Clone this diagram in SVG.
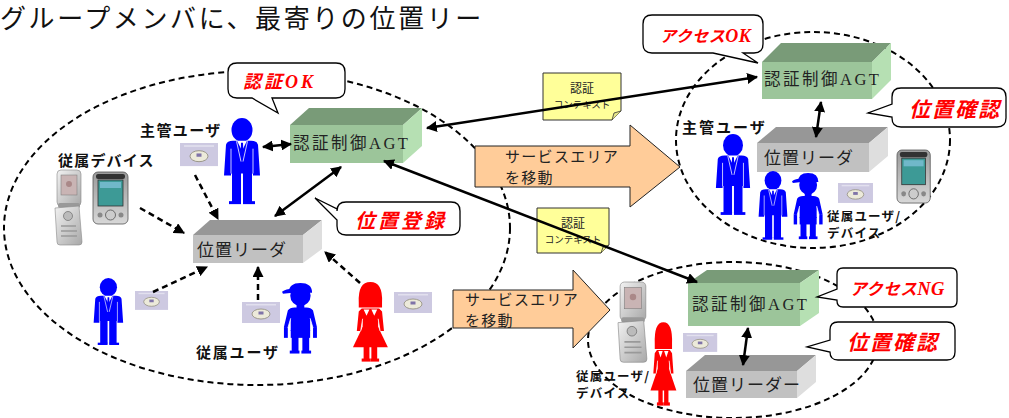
<svg xmlns="http://www.w3.org/2000/svg" xmlns:xlink="http://www.w3.org/1999/xlink" width="1009" height="418" viewBox="0 0 1009 418">
<style>
  text{font-family:"Noto Sans CJK JP","Noto Sans CJK SC",sans-serif;}
  .latin{font-family:"Liberation Serif","Noto Sans CJK JP",serif;}
  .zone{fill:none;stroke:#000;stroke-width:2;stroke-dasharray:6 4;}
  .front-g{fill:#9CC59A;} .top-g{fill:#799B78;} .side-g{fill:#B6E0B3;}
  .front-s{fill:#C1C1C1;} .top-s{fill:#979797;} .side-s{fill:#DEDEDE;}
  .boxlbl{font-size:16.5px;fill:#222;letter-spacing:2.5px;}
  .rdrlbl{font-size:17px;fill:#222;letter-spacing:1px;}
  .bubble{fill:#fff;stroke:#000;stroke-width:1.3;}
  .say{fill:#FF0000;font-style:italic;font-weight:bold;}
  .move{fill:#FFCC99;stroke:#222;stroke-width:1;}
  .movetxt{font-size:15px;fill:#222;letter-spacing:1.3px;}
  .note{fill:#FFFF99;stroke:#333;stroke-width:1;}
  .notetxt{fill:#222;text-anchor:middle;}
  .lbl{font-size:15px;font-weight:bold;fill:#111;}
  .lbl-s{font-size:12.5px;font-weight:bold;fill:#111;letter-spacing:1.2px;}
  .link{stroke:#000;stroke-width:2.5;fill:none;marker-start:url(#ah);marker-end:url(#ah);}
  .flow{stroke:#000;stroke-width:2.5;fill:none;stroke-dasharray:6 4;marker-end:url(#ah);}
  .blue{fill:#0000FF;} .red{fill:#FF0000;}
</style>
<defs>
  <marker id="ah" viewBox="0 0 10 10" refX="9" refY="5" markerWidth="11" markerHeight="11" markerUnits="userSpaceOnUse" orient="auto-start-reverse">
    <path d="M0,0 L10,5 L0,10 z" fill="#000"/>
  </marker>
  <linearGradient id="silver" x1="0" y1="0" x2="1" y2="1">
    <stop offset="0" stop-color="#F2F2F2"/>
    <stop offset="1" stop-color="#A8A8A8"/>
  </linearGradient>
  <linearGradient id="silver2" x1="0" y1="0" x2="0" y2="1">
    <stop offset="0" stop-color="#9A9A9A"/>
    <stop offset="1" stop-color="#D8D8D8"/>
  </linearGradient>
  <filter id="soft" x="-10%" y="-10%" width="120%" height="120%">
    <feGaussianBlur stdDeviation="0.6"/>
  </filter>
  <!-- figure in a suit -->
  <g id="man-shape">
    <ellipse cx="20" cy="12" rx="10.5" ry="12"/>
    <rect x="16" y="20" width="8" height="6"/>
    <path d="M4,27 Q5,23 11,23 H29 Q35,23 36,27 L38,58 H31 V56 H9 V58 H2 Z"/>
    <rect x="10" y="55" width="9" height="30"/>
    <rect x="21" y="55" width="9" height="30"/>
    <rect x="7" y="84" width="12" height="3"/>
    <rect x="21" y="84" width="12" height="3"/>
    <path d="M15,23 L20,33 L25,23 Z" fill="#fff"/>
    <path d="M19,25 H21 L21.6,42 L20,45 L18.4,42 Z"/>
    <path d="M9,31 V56 M31,31 V56 M14.5,23.5 L19,44 M25.5,23.5 L21,44" stroke="#fff" stroke-width="0.8" fill="none"/>
  </g>
  <!-- child with cap -->
  <g id="boy-shape">
    <circle cx="19" cy="14" r="10.5"/>
    <path d="M7,11 Q7,1 19,1 Q31,1 31,11 Z"/>
    <path d="M0,10 Q4,7 11,7 L11,11 L1,12 Z"/>
    <rect x="15" y="23" width="8" height="5"/>
    <path d="M6,29 Q8,26 13,26 H25 Q30,26 32,29 L36,46 L32,47 L29,37 V50 H9 V37 L6,47 L2,46 Z"/>
    <rect x="2" y="46" width="4" height="11"/>
    <rect x="32" y="46" width="4" height="11"/>
    <rect x="9" y="49" width="20" height="8"/>
    <rect x="10" y="56" width="7" height="15"/>
    <rect x="21" y="56" width="7" height="15"/>
    <rect x="8" y="70" width="10" height="3"/>
    <rect x="20" y="70" width="10" height="3"/>
    <path d="M9,37 L6,47 M29,37 L32,47" stroke="#fff" stroke-width="0.8" fill="none"/>
  </g>
  <!-- girl figure -->
  <g id="girl-shape">
    <path d="M8,22 Q7,2 20,2 Q33,2 32,22 V27 H8 Z"/>
    <path d="M11,28 H29 L32,31 L34,50 H30 L28,38 V48 H12 V38 L10,50 H6 L8,31 Z"/>
    <path d="M12,46 H28 L38,66 H2 Z"/>
    <rect x="13" y="65" width="6" height="13"/>
    <rect x="21" y="65" width="6" height="13"/>
    <rect x="11" y="77" width="9" height="3"/>
    <rect x="20" y="77" width="9" height="3"/>
    <path d="M13,29 H19 L16,35 Z M21,29 H27 L24,35 Z" fill="#fff"/>
    <path d="M12,38 L10,50 M28,38 L30,50" stroke="#fff" stroke-width="0.8" fill="none"/>
  </g>
  <!-- member card -->
  <g id="card-shape" filter="url(#soft)">
    <rect x="0" y="0" width="38" height="21" fill="#CDC9E1"/>
    <rect x="4" y="2" width="30" height="1.5" fill="#E2E0EE"/>
    <ellipse cx="19" cy="12" rx="9" ry="5" fill="#ECEADA" stroke="#8E8A7A" stroke-width="0.8"/>
    <rect x="16.5" y="9.5" width="5" height="3" fill="#7F73A8"/>
  </g>
  <!-- folding phone -->
  <g id="flip-shape" filter="url(#soft)">
    <rect x="2" y="0" width="24" height="36" rx="4" fill="url(#silver)" stroke="#888" stroke-width="0.6"/>
    <rect x="6" y="5" width="16" height="20" fill="#C9B4B4" stroke="#777" stroke-width="0.5"/>
    <circle cx="14" cy="14" r="3" fill="#A88" />
    <rect x="3" y="33" width="22" height="5" rx="2" fill="#999"/>
    <path d="M0,38 L24,36 L27,72 Q27,75 24,75 L5,75 Q2,75 2,72 Z" fill="url(#silver)" stroke="#888" stroke-width="0.6"/>
    <circle cx="13" cy="46" r="4.5" fill="#BBB" stroke="#777" stroke-width="0.8"/>
    <path d="M6,56 H21 M6,61 H22 M6,66 H22" stroke="#999" stroke-width="1.5"/>
  </g>
  <!-- handheld PDA -->
  <g id="pda-shape" filter="url(#soft)">
    <rect x="0" y="0" width="35" height="52" rx="5" fill="url(#silver2)" stroke="#555" stroke-width="0.8"/>
    <rect x="3" y="2" width="29" height="5" rx="2" fill="#333"/>
    <rect x="5" y="8" width="25" height="26" fill="#3E9A96" stroke="#333" stroke-width="0.8"/>
    <rect x="7" y="10" width="21" height="6" fill="#6FB8C9"/>
    <circle cx="17.5" cy="43" r="5" fill="#CCC" stroke="#555" stroke-width="0.8"/>
    <circle cx="7" cy="43" r="2.5" fill="#888"/>
    <circle cx="28" cy="43" r="2.5" fill="#888"/>
  </g>
</defs>

<rect width="1009" height="418" fill="#fff"/>

<!-- heading -->
<text x="0" y="28" font-size="26" letter-spacing="2.6" fill="#111">グループメンバに、最寄りの位置リー</text>

<!-- service areas -->
<g id="areas">
  <ellipse class="zone" cx="257" cy="228" rx="253" ry="157"/>
  <ellipse class="zone" cx="813" cy="140" rx="137" ry="108"/>
  <ellipse class="zone" cx="733" cy="340" rx="145" ry="78"/>
</g>

<!-- movement between areas -->
<g id="move-top">
  <path class="move" d="M475,146 H630 V125 L680,167 L630,207 V187 H475 Z"/>
  <text class="movetxt" x="505" y="162">サービスエリア</text>
  <text class="movetxt" x="505" y="183">を移動</text>
</g>
<g id="move-bottom">
  <path class="move" d="M453,290 H573 V270 L610,310 L573,348 V328 H453 Z"/>
  <text class="movetxt" x="465" y="305">サービスエリア</text>
  <text class="movetxt" x="465" y="326">を移動</text>
</g>

<!-- context notes -->
<g id="note-top">
  <path class="note" d="M543,73 H621 V111 L612,120 H543 Z"/>
  <path d="M612,120 L614,113 L621,111" fill="#E6E68A" stroke="#333" stroke-width="0.8"/>
  <text class="notetxt" x="582" y="93" font-size="12">認証</text>
  <text class="notetxt" x="582" y="108" font-size="9.5">コンテキスト</text>
</g>
<g id="note-bottom">
  <path class="note" d="M537,208 H609 V245 L601,253 H537 Z"/>
  <path d="M601,253 L603,247 L609,245" fill="#E6E68A" stroke="#333" stroke-width="0.8"/>
  <text class="notetxt" x="573" y="228" font-size="12">認証</text>
  <text class="notetxt" x="573" y="243" font-size="9.5">コンテキスト</text>
</g>

<!-- authentication agents -->
<g id="agt-home">
  <rect class="front-g" x="290" y="125" width="113" height="38"/>
  <polygon class="top-g" points="290,125 309,108 422,108 403,125"/>
  <polygon class="side-g" points="403,125 422,108 422,146 403,163"/>
  <text class="boxlbl" x="293" y="149">認証制御<tspan class="latin">AGT</tspan></text>
</g>
<g id="agt-ok">
  <rect class="front-g" x="762" y="62" width="110" height="37"/>
  <polygon class="top-g" points="762,62 781,43 891,43 872,62"/>
  <polygon class="side-g" points="872,62 891,43 891,80 872,99"/>
  <text class="boxlbl" x="764" y="85">認証制御<tspan class="latin">AGT</tspan></text>
</g>
<g id="agt-ng">
  <rect class="front-g" x="688" y="283" width="112" height="43"/>
  <polygon class="top-g" points="688,283 707,270 819,270 800,283"/>
  <polygon class="side-g" points="800,283 819,270 819,313 800,326"/>
  <text class="boxlbl" x="692" y="310">認証制御<tspan class="latin">AGT</tspan></text>
</g>

<!-- location readers -->
<g id="reader-home">
  <rect class="front-s" x="193" y="235" width="110" height="28"/>
  <polygon class="top-s" points="193,235 210,220 322,220 303,235"/>
  <polygon class="side-s" points="303,235 322,220 322,249 303,263"/>
  <text class="rdrlbl" x="197" y="256">位置リーダ</text>
</g>
<g id="reader-ok">
  <rect class="front-s" x="757" y="143" width="112" height="29"/>
  <polygon class="top-s" points="757,143 776,127 888,127 869,143"/>
  <polygon class="side-s" points="869,143 888,127 888,156 869,172"/>
  <text class="rdrlbl" x="764" y="164">位置リーダ</text>
</g>
<g id="reader-ng">
  <rect class="front-s" x="686" y="371" width="111" height="27"/>
  <polygon class="top-s" points="686,371 705,355 816,355 797,371"/>
  <polygon class="side-s" points="797,371 816,355 816,382 797,398"/>
  <text class="rdrlbl" x="693" y="391">位置リーダー</text>
</g>

<!-- home area members -->
<g id="owner-home">
  <use xlink:href="#man-shape" class="blue" transform="translate(222,118) scale(1,0.99)"/>
  <use xlink:href="#card-shape" transform="translate(180,143) scale(1,1.1)"/>
  <text class="lbl" x="140" y="136" letter-spacing="1.4">主管ユーザ</text>
</g>
<g id="devices-home">
  <use xlink:href="#flip-shape" transform="translate(55,170)"/>
  <use xlink:href="#pda-shape" transform="translate(93,172)"/>
  <text class="lbl" x="58" y="166" letter-spacing="1.2">従属デバイス</text>
</g>
<g id="member-man">
  <use xlink:href="#man-shape" class="blue" transform="translate(92,278) scale(0.82,0.77)"/>
  <use xlink:href="#card-shape" transform="translate(135,291) scale(0.87,0.9)"/>
</g>
<g id="member-boy">
  <use xlink:href="#card-shape" transform="translate(242,302)"/>
  <use xlink:href="#boy-shape" class="blue" transform="translate(282,282) scale(0.97,0.98)"/>
  <text class="lbl" x="196" y="358" letter-spacing="1.8">従属ユーザ</text>
</g>
<g id="member-girl">
  <use xlink:href="#girl-shape" class="red" transform="translate(351,280) scale(0.97,1.02)"/>
  <use xlink:href="#card-shape" transform="translate(394,292)"/>
</g>

<!-- members after moving (access OK) -->
<g id="owner-ok">
  <use xlink:href="#man-shape" class="blue" transform="translate(714,134) scale(0.95,0.93)"/>
  <text class="lbl" x="682" y="133" letter-spacing="2">主管ユーザ</text>
</g>
<g id="members-ok">
  <use xlink:href="#man-shape" class="blue" transform="translate(757,171) scale(0.8,0.79)"/>
  <use xlink:href="#boy-shape" class="blue" transform="translate(792,172) scale(0.85,0.92)"/>
  <use xlink:href="#card-shape" transform="translate(838,183) scale(0.92,0.95)"/>
  <use xlink:href="#pda-shape" transform="translate(897,150) scale(0.95,1.02)"/>
  <text class="lbl-s" x="827" y="221">従属ユーザ/</text>
  <text class="lbl-s" x="827" y="238">デバイス</text>
</g>

<!-- members after moving (access NG) -->
<g id="members-ng">
  <use xlink:href="#flip-shape" transform="translate(618,282) scale(1.07,1.07)"/>
  <use xlink:href="#girl-shape" class="red" transform="translate(649,320) scale(0.72,1.07)"/>
  <use xlink:href="#card-shape" transform="translate(683,333) scale(0.9,0.9)"/>
  <text class="lbl-s" x="576" y="381">従属ユーザ/</text>
  <text class="lbl-s" x="576" y="398">デバイス</text>
</g>

<!-- status callouts -->
<g id="call-auth-ok">
  <path class="bubble" d="M237,63 H336 Q345,63 345,72 V89 Q345,98 336,98 H272 L278,113 L252,98 H237 Q228,98 228,89 V72 Q228,63 237,63 Z"/>
  <text class="say" x="243" y="88" font-size="18" letter-spacing="3">認証<tspan class="latin">OK</tspan></text>
</g>
<g id="call-register">
  <path class="bubble" d="M346,202 H451 Q460,202 460,211 V226 Q460,235 451,235 H346 Q337,235 337,226 V220 L315,198 L337,209 V211 Q337,202 346,202 Z"/>
  <text class="say" x="355" y="228" font-size="20" letter-spacing="3">位置登録</text>
</g>
<g id="call-access-ok">
  <path class="bubble" d="M652,15 H754 Q763,15 763,24 V44 Q763,53 754,53 H743 L758,63 L713,53 H652 Q643,53 643,44 V24 Q643,15 652,15 Z"/>
  <text class="say" x="660" y="42" font-size="16" letter-spacing="0.5">アクセス<tspan class="latin" font-size="18">OK</tspan></text>
</g>
<g id="call-check-ok">
  <path class="bubble" d="M901,88 H997 Q1006,88 1006,97 V118 Q1006,127 997,127 H901 Q892,127 892,118 V117 L868,113 L892,104 V97 Q892,88 901,88 Z"/>
  <text class="say" x="909" y="117" font-size="21" letter-spacing="2">位置確認</text>
</g>
<g id="call-access-ng">
  <path class="bubble" d="M843,268 H951 Q957,268 957,274 V301 Q957,307 951,307 H843 Q837,307 837,301 V300 L817,297 L837,289 V274 Q837,268 843,268 Z"/>
  <text class="say" x="850" y="295" font-size="16.5" letter-spacing="0.5">アクセス<tspan class="latin" font-size="18.5">NG</tspan></text>
</g>
<g id="call-check-ng">
  <path class="bubble" d="M838,322 H947 Q955,322 955,330 V352 Q955,360 947,360 H838 Q830,360 830,352 L807,347 L830,340 V330 Q830,322 838,322 Z"/>
  <text class="say" x="847" y="350" font-size="21" letter-spacing="2">位置確認</text>
</g>

<!-- connectors -->
<g id="connectors">
  <line class="link" x1="263" y1="147" x2="291" y2="144"/>
  <line class="link" x1="275" y1="216" x2="341" y2="167"/>
  <line class="link" x1="427" y1="128" x2="757" y2="77"/>
  <line class="link" x1="384" y1="161" x2="697" y2="282"/>
  <line class="link" x1="821" y1="102" x2="816" y2="137"/>
  <line class="link" x1="748" y1="328" x2="743" y2="365"/>
  <line class="flow" x1="140" y1="208" x2="184" y2="233"/>
  <line class="flow" x1="195" y1="175" x2="218" y2="219"/>
  <line class="flow" x1="153" y1="292" x2="207" y2="267"/>
  <line class="flow" x1="258" y1="300" x2="258" y2="267"/>
  <line class="flow" x1="360" y1="283" x2="325" y2="252"/>
</g>
</svg>
